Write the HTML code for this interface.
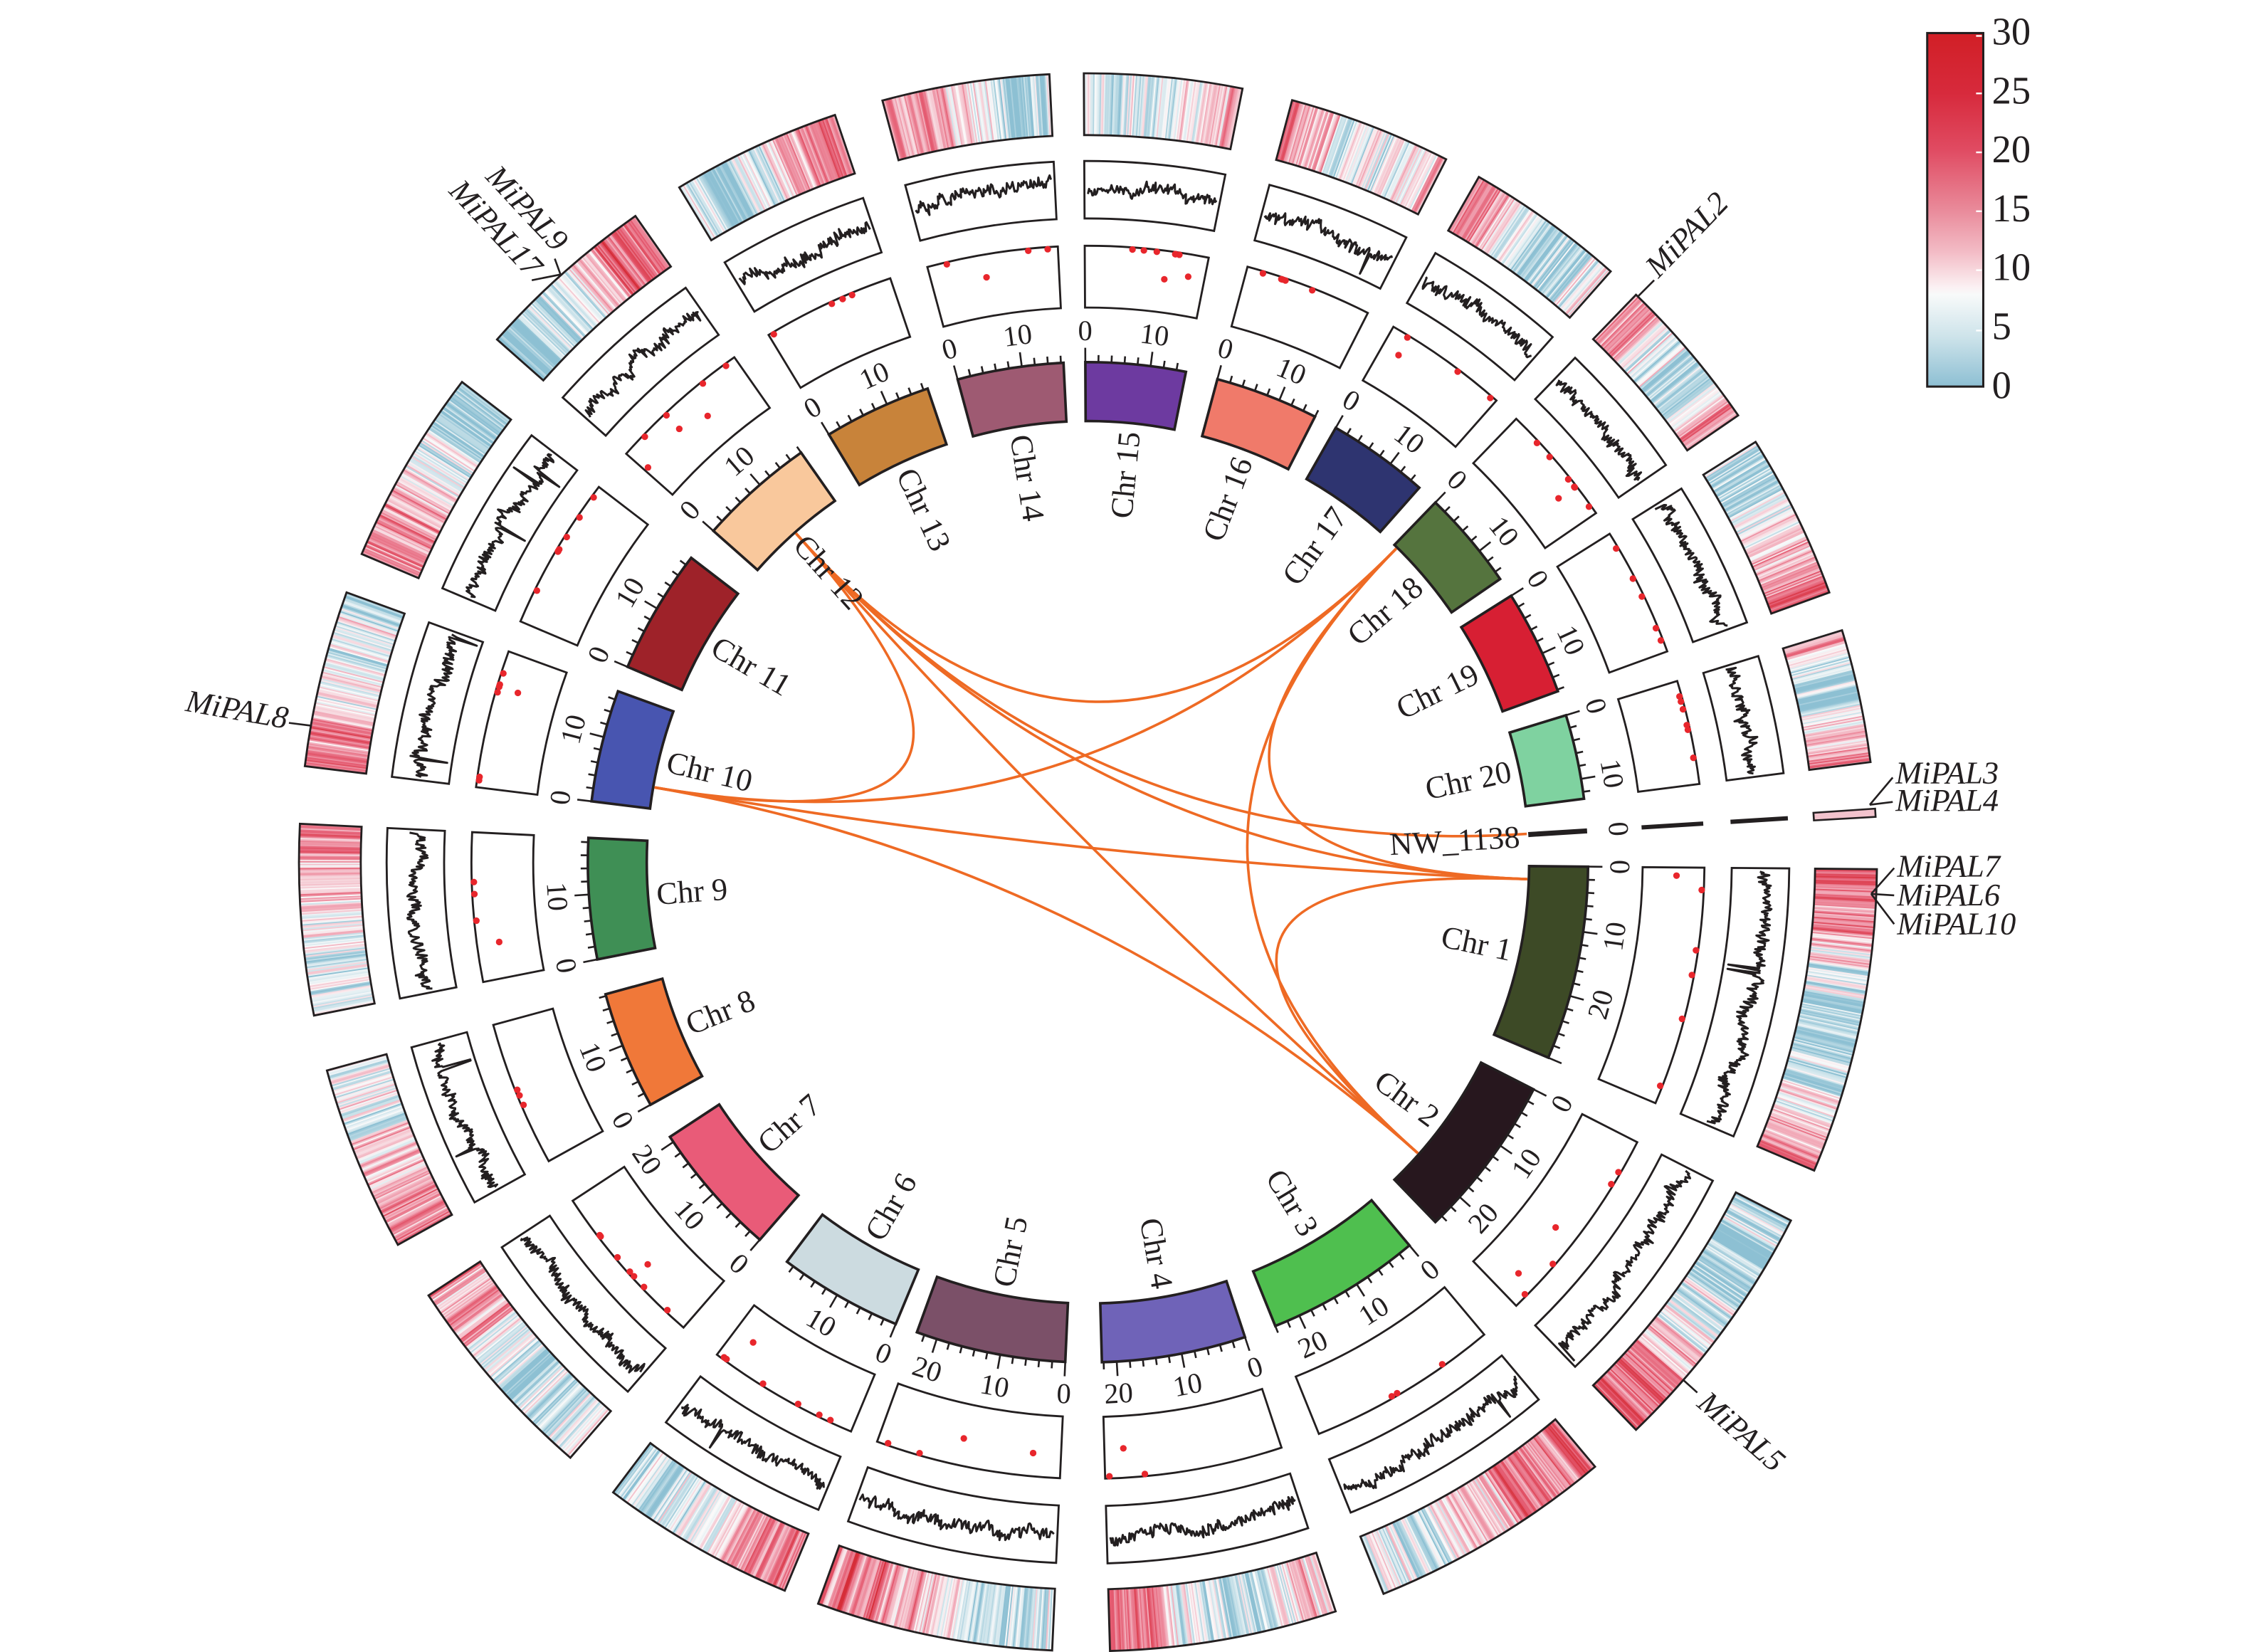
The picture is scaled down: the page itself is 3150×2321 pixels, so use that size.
<!DOCTYPE html>
<html><head><meta charset="utf-8">
<style>
html,body{margin:0;padding:0;background:#fff;}
svg{display:block}
text{font-family:"Liberation Serif",serif;fill:#231f20}
.cl{font-size:22px}
.tk{font-size:20px}
.g{font-size:22px;font-style:italic}
.lgt{font-size:27px}
</style></head>
<body>
<svg id="s" width="3150" height="2321" viewBox="0 0 1560 1149.5" xmlns="http://www.w3.org/2000/svg">
<defs>
<linearGradient id="lg" x1="0" y1="0" x2="0" y2="1">
<stop offset="0" stop-color="#d11f26"/>
<stop offset="0.17" stop-color="#d72a3c"/>
<stop offset="0.33" stop-color="#e04b62"/>
<stop offset="0.5" stop-color="#e98a9a"/>
<stop offset="0.62" stop-color="#f3bcc6"/>
<stop offset="0.72" stop-color="#fbf1f3"/>
<stop offset="0.74" stop-color="#f8fafa"/>
<stop offset="0.86" stop-color="#cde3ea"/>
<stop offset="1" stop-color="#8dbfd3"/>
</linearGradient>
</defs>
<rect x="0" y="0" width="1560" height="1149.5" fill="#fff"/>
<g id="heat"></g>
<g id="boxes"></g>
<g id="lines"></g>
<g id="dots"></g>
<g id="ideo"></g>
<g id="ticks"></g>
<g id="links"></g>
<g id="nw"></g>
<g id="conn" stroke="#231f20" stroke-width="1.3" fill="none">
<line x1="386" y1="180" x2="390" y2="191"/>
<line x1="370" y1="195" x2="390" y2="191"/>
<line x1="201" y1="503" x2="217" y2="505"/>
<line x1="1140" y1="206" x2="1151" y2="195"/>
<line x1="1301" y1="560" x2="1317" y2="541"/>
<line x1="1301" y1="560" x2="1317" y2="558"/>
<line x1="1302" y1="622" x2="1318" y2="604"/>
<line x1="1302" y1="622" x2="1318" y2="623"/>
<line x1="1302" y1="622" x2="1318" y2="643"/>
<line x1="1171" y1="960" x2="1181" y2="969"/>
</g>

<text class="cl" id="L1">Chr 1</text>
<text class="cl" id="L2">Chr 2</text>
<text class="cl" id="L3">Chr 3</text>
<text class="cl" id="L4">Chr 4</text>
<text class="cl" id="L5">Chr 5</text>
<text class="cl" id="L6">Chr 6</text>
<text class="cl" id="L7">Chr 7</text>
<text class="cl" id="L8">Chr 8</text>
<text class="cl" id="L9">Chr 9</text>
<text class="cl" id="L10">Chr 10</text>
<text class="cl" id="L11">Chr 11</text>
<text class="cl" id="L12">Chr 12</text>
<text class="cl" id="L13">Chr 13</text>
<text class="cl" id="L14">Chr 14</text>
<text class="cl" id="L15">Chr 15</text>
<text class="cl" id="L16">Chr 16</text>
<text class="cl" id="L17">Chr 17</text>
<text class="cl" id="L18">Chr 18</text>
<text class="cl" id="L19">Chr 19</text>
<text class="cl" id="L20">Chr 20</text>
<text class="cl" id="L21">NW_1138</text>

<text class="tk" id="t1_0">0</text><text class="tk" id="t1_10">10</text><text class="tk" id="t1_20">20</text>
<text class="tk" id="t2_0">0</text><text class="tk" id="t2_10">10</text><text class="tk" id="t2_20">20</text>
<text class="tk" id="t3_0">0</text><text class="tk" id="t3_10">10</text><text class="tk" id="t3_20">20</text>
<text class="tk" id="t4_0">0</text><text class="tk" id="t4_10">10</text><text class="tk" id="t4_20">20</text>
<text class="tk" id="t5_0">0</text><text class="tk" id="t5_10">10</text><text class="tk" id="t5_20">20</text>
<text class="tk" id="t6_0">0</text><text class="tk" id="t6_10">10</text>
<text class="tk" id="t7_0">0</text><text class="tk" id="t7_10">10</text><text class="tk" id="t7_20">20</text>
<text class="tk" id="t8_0">0</text><text class="tk" id="t8_10">10</text>
<text class="tk" id="t9_0">0</text><text class="tk" id="t9_10">10</text>
<text class="tk" id="t10_0">0</text><text class="tk" id="t10_10">10</text>
<text class="tk" id="t11_0">0</text><text class="tk" id="t11_10">10</text>
<text class="tk" id="t12_0">0</text><text class="tk" id="t12_10">10</text>
<text class="tk" id="t13_0">0</text><text class="tk" id="t13_10">10</text>
<text class="tk" id="t14_0">0</text><text class="tk" id="t14_10">10</text>
<text class="tk" id="t15_0">0</text><text class="tk" id="t15_10">10</text>
<text class="tk" id="t16_0">0</text><text class="tk" id="t16_10">10</text>
<text class="tk" id="t17_0">0</text><text class="tk" id="t17_10">10</text>
<text class="tk" id="t18_0">0</text><text class="tk" id="t18_10">10</text>
<text class="tk" id="t19_0">0</text><text class="tk" id="t19_10">10</text>
<text class="tk" id="t20_0">0</text><text class="tk" id="t20_10">10</text>
<text class="tk" id="t21_0">0</text>

<text class="g" text-anchor="end" transform="translate(386,176) rotate(47)">MiPAL9</text>
<text class="g" text-anchor="end" transform="translate(368,194) rotate(47)">MiPAL17</text>
<text class="g" text-anchor="end" transform="translate(199,507) rotate(10)">MiPAL8</text>
<text class="g" transform="translate(1154,194) rotate(-46)">MiPAL2</text>
<text class="g" x="1319" y="545">MiPAL3</text>
<text class="g" x="1319" y="564">MiPAL4</text>
<text class="g" x="1320" y="610">MiPAL7</text>
<text class="g" x="1320" y="630">MiPAL6</text>
<text class="g" x="1320" y="650">MiPAL10</text>
<text class="g" transform="translate(1180,978) rotate(41)">MiPAL5</text>

<rect x="1341" y="23" width="39" height="246" fill="url(#lg)" stroke="#231f20" stroke-width="1.5"/>
<g stroke="#fff" stroke-width="1.2">
<line x1="1375" y1="25" x2="1379" y2="25"/>
<line x1="1375" y1="65" x2="1379" y2="65"/>
<line x1="1375" y1="106" x2="1379" y2="106"/>
<line x1="1375" y1="147" x2="1379" y2="147"/>
<line x1="1375" y1="188" x2="1379" y2="188"/>
<line x1="1375" y1="230" x2="1379" y2="230"/>
</g>
<text class="lgt" x="1386" y="31">30</text>
<text class="lgt" x="1386" y="72">25</text>
<text class="lgt" x="1386" y="113">20</text>
<text class="lgt" x="1386" y="154">15</text>
<text class="lgt" x="1386" y="195">10</text>
<text class="lgt" x="1386" y="236">5</text>
<text class="lgt" x="1386" y="277">0</text>
</svg>
<script>
(function(){
const cx=757,cy=600,RI=307,RO=348,K=0.75;
const D1=386,D2=429,N1=448,N2=488,H1=506,H2=549;
const R=Math.PI/180;
function P(r,a){return [cx+r*Math.sin(a*R), cy-r*Math.cos(a*R)];}
function f(v){return v.toFixed(2);}
function sector(r1,r2,a1,a2){const L=(a2-a1)>180?1:0;const p1=P(r1,a1),p2=P(r1,a2),p3=P(r2,a2),p4=P(r2,a1);
return 'M'+f(p1[0])+','+f(p1[1])+'A'+r1+','+r1+' 0 '+L+' 1 '+f(p2[0])+','+f(p2[1])+'L'+f(p3[0])+','+f(p3[1])+'A'+r2+','+r2+' 0 '+L+' 0 '+f(p4[0])+','+f(p4[1])+'Z';}
let seed=12345;
function rnd(){seed|=0;seed=seed+0x6D2B79F5|0;let t=Math.imul(seed^seed>>>15,1|seed);t=t+Math.imul(t^t>>>7,61|t)^t;return((t^t>>>14)>>>0)/4294967296;}
const C=[
[1,90.5,113,'#3d4a26',[0.62,0.58,0.3,0.12,0.08,0.1,0.4,0.62]],
[2,117,136,'#27171e',[0.1,0.08,0.12,0.35,0.6,0.68]],
[3,140,158,'#4fbf4f',[0.68,0.62,0.5,0.3,0.15,0.2]],
[4,161.7,178.4,'#6f63b8',[0.45,0.3,0.1,0.15,0.5,0.62]],
[5,182.6,200,'#7b5068',[0.12,0.1,0.2,0.4,0.58,0.62]],
[6,202.6,217,'#ccdbe0',[0.62,0.55,0.35,0.15,0.1,0.15]],
[7,221,236.7,'#e95b78',[0.3,0.15,0.1,0.2,0.5,0.58]],
[8,241,254.7,'#f07839',[0.62,0.55,0.4,0.2,0.1]],
[9,258.8,272.8,'#3f8f55',[0.2,0.25,0.35,0.45,0.58]],
[10,277,290,'#4855b0',[0.62,0.55,0.3,0.15,0.1]],
[11,293,307.5,'#9e2229',[0.62,0.55,0.3,0.15,0.1]],
[12,311.5,325,'#f9c89c',[0.1,0.15,0.3,0.62,0.68]],
[13,328.8,341.3,'#c8833a',[0.15,0.1,0.2,0.55,0.62]],
[14,344.9,357.2,'#9e5a72',[0.62,0.55,0.3,0.15,0.1]],
[15,359.7,371.3,'#6d3aa0',[0.35,0.2,0.15,0.3,0.55]],
[16,15,27,'#f07a6a',[0.6,0.4,0.15,0.2,0.4]],
[17,29.7,41.5,'#2e3470',[0.55,0.4,0.15,0.1,0.35]],
[18,44,55.5,'#55743e',[0.6,0.5,0.15,0.1,0.3,0.55]],
[19,57.8,70,'#d71f33',[0.1,0.1,0.3,0.5,0.6]],
[20,72.9,82.7,'#7fd2a0',[0.45,0.2,0.1,0.4,0.6]]
];
const GS=[[0,[141,192,211]],[0.15,[200,225,233]],[0.27,[250,250,250]],[0.33,[248,225,230]],[0.5,[240,160,176]],[0.7,[228,90,112]],[1,[209,31,38]]];
function grad(v){v=Math.max(0,Math.min(1,v));for(let i=1;i<GS.length;i++){if(v<=GS[i][0]){const a=GS[i-1],b=GS[i];const t=(v-a[0])/(b[0]-a[0]);
return 'rgb('+[0,1,2].map(k=>Math.round(a[1][k]+(b[1][k]-a[1][k])*t)).join(',')+')';}}return 'rgb(209,31,38)';}
function interp(p,t){const x=t*(p.length-1);const i=Math.min(p.length-2,Math.floor(x));const u=x-i;return p[i]*(1-u)+p[i+1]*u;}
let heat='',boxes='',lines='',dots='',ideo='',ticks='';
C.forEach(c=>{
 const [id,a1,a2,col,prof]=c;const sp=a2-a1;
 const n=Math.round(sp*10);let e=0;
 for(let j=0;j<n;j++){const a=a1+(j+0.5)/n*sp;e=e*0.6+(rnd()-0.5)*0.3;let v=interp(prof,j/n)+e+(rnd()-0.5)*0.22;
  const p=P(H1,a),q=P(H2,a);heat+='<line x1="'+f(p[0])+'" y1="'+f(p[1])+'" x2="'+f(q[0])+'" y2="'+f(q[1])+'" stroke="'+grad(v)+'"/>';}
 boxes+='<path d="'+sector(H1,H2,a1,a2)+'"/>';
 boxes+='<path d="'+sector(N1,N2,a1,a2)+'"/>';
 boxes+='<path d="'+sector(D1,D2,a1,a2)+'"/>';
 const m=Math.round(sp*10);let v=0.5;let d='';
 for(let j=0;j<=m;j++){const a=a1+0.3+(sp-0.6)*j/m;v+=(rnd()-0.5)*0.08;v=v*0.95+0.55*0.05;
  let y=v+(rnd()-0.5)*0.18;if(rnd()<0.008)y=rnd()<0.6?0.08:0.92;y=Math.max(0.05,Math.min(0.95,y));
  const p=P(N1+y*(N2-N1),a);d+=(j?'L':'M')+f(p[0])+','+f(p[1]);}
 lines+='<path d="'+d+'"/>';
 const nd=3+Math.floor(rnd()*6);
 for(let j=0;j<nd;j++){const a=a1+0.4+rnd()*(sp-0.8);const r=rnd()<0.15?D2-14-rnd()*8:D2-1.5;const p=P(r,a);
  dots+='<circle cx="'+f(p[0])+'" cy="'+f(p[1])+'" r="2.3"/>';}
 ideo+='<path d="'+sector(RI,RO,a1,a2)+'" fill="'+col+'"/>';
 for(let mb=0;mb*K<=sp+0.01;mb+=2){const a=a1+mb*K;const L=(mb%10===0)?10:5;const p=P(RO,a),q=P(RO+L,a);
  ticks+='<line x1="'+f(p[0])+'" y1="'+f(p[1])+'" x2="'+f(q[0])+'" y2="'+f(q[1])+'"/>';}
});
function set(id,s){document.getElementById(id).innerHTML=s;}
set('heat','<g stroke-width="1.25">'+heat+'</g>');
set('boxes','<g fill="none" stroke="#231f20" stroke-width="1.4">'+boxes+'</g>');
set('lines','<g fill="none" stroke="#231f20" stroke-width="1.5" stroke-linejoin="round">'+lines+'</g>');
set('dots','<g fill="#e8262c">'+dots+'</g>');
set('ideo','<g stroke="#231f20" stroke-width="1.8">'+ideo+'</g>');
set('ticks','<g stroke="#231f20" stroke-width="1.3">'+ticks+'</g>');
const LK=[[318.4,279.8],[318.4,44.5],[318.4,86.3],[318.4,92.2],[318.4,131.4],[279.8,44.5],[279.8,92.2],[279.8,131.4],[44.5,131.4],[44.5,92.2],[92.2,131.4]];
let lk='';LK.forEach(l=>{const p=P(RI-1,l[0]),q=P(RI-1,l[1]);lk+='<path d="M'+f(p[0])+','+f(p[1])+'Q'+cx+','+cy+' '+f(q[0])+','+f(q[1])+'"/>';});
set('links','<g fill="none" stroke="#ee6a24" stroke-width="1.8">'+lk+'</g>');
const NA=86.4;let nw='';
function seg(r1,r2,w){const p=P(r1,NA),q=P(r2,NA);return '<line x1="'+f(p[0])+'" y1="'+f(p[1])+'" x2="'+f(q[0])+'" y2="'+f(q[1])+'" stroke-width="'+w+'"/>';}
nw+='<g stroke="#231f20">'+seg(RI,RO,3.5)+seg(D1,D2,3)+seg(N1,N2,3)+'</g>';
nw+='<path d="'+sector(H1,H2,NA-0.3,NA+0.3)+'" fill="#f3c3cd" stroke="#231f20" stroke-width="1.3"/>';
set('nw',nw);
function norm(a){return ((a%360)+360)%360;}
const ang={};C.forEach(c=>ang[c[0]]=[c[1],c[2]]);ang[21]=[NA,NA+0.4];
for(let i=1;i<=21;i++){const el=document.getElementById('L'+i);const a=norm((ang[i][0]+ang[i][1])/2);
 const r=RI-6;const p=P(r,a);let rot,anc;
 if(a<180){rot=a-90;anc='end';}else{rot=a+90;anc='start';}
 el.setAttribute('x',f(p[0]));el.setAttribute('y',f(p[1]));el.setAttribute('text-anchor',anc);
 el.setAttribute('dominant-baseline','central');el.setAttribute('transform','rotate('+f(rot)+' '+f(p[0])+' '+f(p[1])+')');}
document.querySelectorAll('.tk').forEach(el=>{const m=el.id.match(/^t(\d+)_(\d+)$/);const c=+m[1],v=+m[2];
 const a=norm(ang[c][0]+v*K);const p=P(RO+22,a);let s=a>180?a-360:a;let rot=Math.abs(s)<=90?s:(s>0?s-180:s+180);
 el.setAttribute('x',f(p[0]));el.setAttribute('y',f(p[1]));el.setAttribute('text-anchor','middle');
 el.setAttribute('dominant-baseline','central');el.setAttribute('transform','rotate('+f(rot)+' '+f(p[0])+' '+f(p[1])+')');});
})();
</script>
</body></html>
